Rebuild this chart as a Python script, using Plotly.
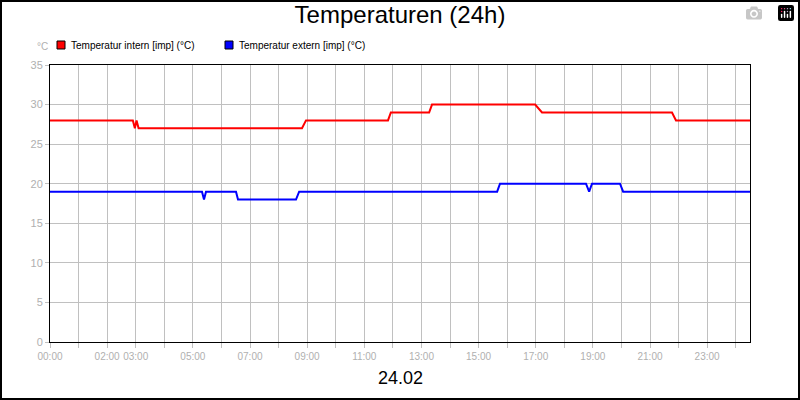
import plotly.graph_objects as go

# hours since 00:00, step-like temperature readings
intern_t = [0, 2.9, 2.97, 3.03, 3.1, 8.82, 8.96, 11.83, 11.93, 13.27, 13.37, 16.98, 17.22, 21.77, 21.91, 24.5]
intern_v = [28, 28, 27, 28, 27, 27, 28, 28, 29, 29, 30, 30, 29, 29, 28, 28]
extern_t = [0, 5.32, 5.39, 5.46, 6.51, 6.58, 8.61, 8.72, 15.65, 15.75, 18.76, 18.87, 18.97, 19.95, 20.06, 24.5]
extern_v = [19, 19, 18, 19, 19, 18, 18, 19, 19, 20, 20, 19, 20, 20, 19, 19]

hours = list(range(25))
labelled = {0, 2, 3, 5, 7, 9, 11, 13, 15, 17, 19, 21, 23}
hour_text = [f"{h:02d}:00" if h in labelled else "" for h in hours]

L, R, T, B, W, H = 50, 50, 65, 58, 800, 400
pw, ph = W - L - R, H - T - B


def px(x):
    return (x - L) / pw


def py(y):
    return 1 - (y - T) / ph


fig = go.Figure()
fig.add_trace(go.Scatter(x=intern_t, y=intern_v, mode="lines", line=dict(color="#ff0000", width=2), showlegend=False))
fig.add_trace(go.Scatter(x=extern_t, y=extern_v, mode="lines", line=dict(color="#0000ff", width=2), showlegend=False))

shapes = [dict(type="rect", xref="paper", yref="paper", x0=px(1), x1=px(W - 1),
               y0=py(H - 1), y1=py(1), line=dict(color="black", width=2))]
annotations = [
    dict(text="°C", xref="paper", yref="paper", x=px(42), y=py(47), showarrow=False,
         font=dict(color="#b0b0b0", size=10), xanchor="center", yanchor="middle"),
    dict(text="24.02", xref="paper", yref="paper", x=0.5, y=py(378), showarrow=False,
         font=dict(color="black", size=18), xanchor="center", yanchor="middle"),
]
# legend drawn by hand: small black-edged squares with text
for name, col, x0 in [("Temperatur intern [imp] (°C)", "#ff0000", 57), ("Temperatur extern [imp] (°C)", "#0000ff", 225)]:
    shapes.append(dict(type="rect", xref="paper", yref="paper", x0=px(x0), x1=px(x0 + 8),
                       y0=py(49), y1=py(41), fillcolor=col, line=dict(color="black", width=1)))
    annotations.append(dict(text=name, xref="paper", yref="paper", x=px(x0 + 12), y=py(45), showarrow=False,
                            xanchor="left", yanchor="middle", font=dict(color="black", size=10)))

fig.update_layout(
    width=W, height=H, margin=dict(l=L, r=R, t=T, b=B),
    paper_bgcolor="white", plot_bgcolor="white",
    font=dict(family="Liberation Sans, Arial", size=10, color="black"),
    title=dict(text="Temperaturen (24h)", x=0.5, xanchor="center", y=0.985, yanchor="top",
               font=dict(size=24, color="black")),
    showlegend=False,
    xaxis=dict(range=[0, 24.5], tickmode="array", tickvals=hours, ticktext=hour_text,
               showgrid=True, gridcolor="#c0c0c0", ticks="outside", ticklen=5, tickcolor="#c0c0c0",
               tickfont=dict(color="#b0b0b0", size=10), showline=True, linecolor="black", mirror=True,
               zeroline=False, fixedrange=True),
    yaxis=dict(range=[0, 35], dtick=5, showgrid=True, gridcolor="#c0c0c0", ticks="outside", ticklen=4,
               tickcolor="#c0c0c0", tickfont=dict(color="#b0b0b0", size=11), showline=True, linecolor="black",
               mirror=True, zeroline=True, zerolinecolor="black", zerolinewidth=2, fixedrange=True),
    annotations=annotations,
    shapes=shapes,
)

fig.write_html("out.html", post_script="document.body.style.margin='0';")
